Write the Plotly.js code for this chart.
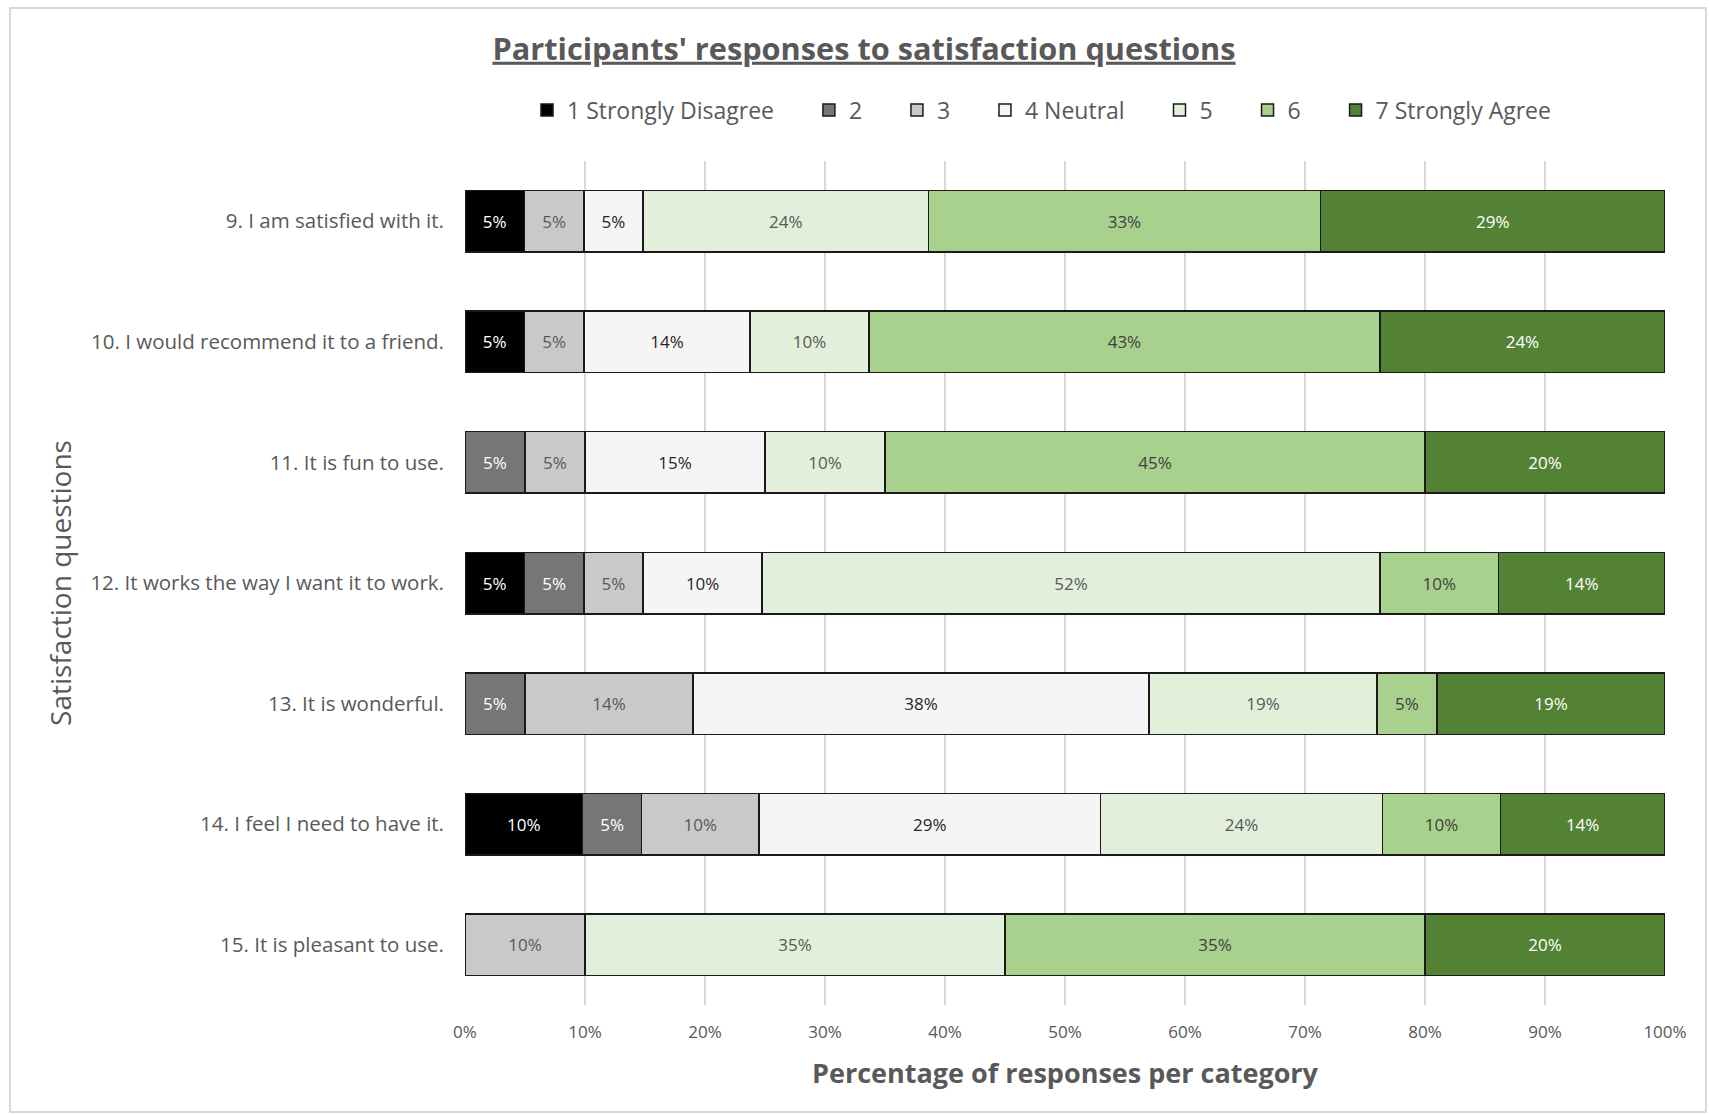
<!DOCTYPE html>
<html>
<head>
<meta charset="utf-8">
<script src="https://cdn.plot.ly/plotly-3.0.1.min.js"></script>
<style>
  html, body { margin: 0; padding: 0; background: #ffffff; }
  #chart { width: 1709px; height: 1115px; }
</style>
</head>
<body>
<div id="chart"></div>
<script>
// Questions, top to bottom
const questions = [
  "9. I am satisfied with it.",
  "10. I would recommend it to a friend.",
  "11. It is fun to use.",
  "12. It works the way I want it to work.",
  "13. It is wonderful.",
  "14. I feel I need to have it.",
  "15. It is pleasant to use."
];

// Likert levels (legend names)
const levels = ["1 Strongly Disagree", "2", "3", "4 Neutral", "5", "6", "7 Strongly Agree"];

// Percentage of responses per level, one value per question (null = no responses)
const level1 = [5, 5, null, 5, null, 10, null];
const level2 = [null, null, 5, 5, 5, 5, null];
const level3 = [5, 5, 5, 5, 14, 10, 10];
const level4 = [5, 14, 15, 10, 38, 29, null];
const level5 = [24, 10, 10, 52, 19, 24, 35];
const level6 = [33, 43, 45, 10, 5, 10, 35];
const level7 = [29, 24, 20, 14, 19, 14, 20];

// x-axis ticks
const tickVals = [0, 10, 20, 30, 40, 50, 60, 70, 80, 90, 100];

const seriesValues = [level1, level2, level3, level4, level5, level6, level7];
const fillColors = ["#000000", "#767676", "#c9c9c9", "#f5f5f5", "#e2efda", "#a9d18e", "#548235"];
const labelColors = ["#ffffff", "#ffffff", "#595959", "#262626", "#595959", "#404040", "#ffffff"];

const FONT = "'Open Sans', Lato, sans-serif";
const GREY = "#595959";
// spacing after each legend entry
const LEGEND_PAD = "\u00a0\u00a0\u00a0\u00a0\u00a0";

const traces = seriesValues.map((vals, i) => ({
  type: "bar",
  orientation: "h",
  name: levels[i] + LEGEND_PAD,
  y: questions,
  x: vals,
  text: vals.map(v => (v == null ? "" : v + "%")),
  texttemplate: "%{text}",
  textposition: "inside",
  insidetextanchor: "middle",
  textangle: 0,
  constraintext: "none",
  textfont: { family: FONT, size: 17, color: labelColors[i] },
  marker: { color: fillColors[i], line: { color: "#1a1a1a", width: 1.5 } },
  hovertemplate: "%{y}<br>" + levels[i] + ": %{text}<extra></extra>"
}));

const plotL = 465, plotR = 1665, plotT = 161, plotB = 1005;
const W = 1709, H = 1115;
const pw = plotR - plotL, ph = plotB - plotT;
const px = v => (v - plotL) / pw;
const py = v => (plotB - v) / ph;

const layout = {
  width: W,
  height: H,
  paper_bgcolor: "#ffffff",
  plot_bgcolor: "#ffffff",
  margin: { l: plotL, r: W - plotR, t: plotT, b: H - plotB, pad: 0 },
  barmode: "stack",
  barnorm: "percent",
  bargap: 0.49,
  font: { family: FONT, color: GREY },
  title: {
    text: "<b>Participants' responses to satisfaction questions</b>",
    xref: "container",
    x: 864 / W,
    xanchor: "center",
    yref: "container",
    y: 1 - 49 / H,
    yanchor: "middle",
    font: { family: FONT, size: 30.7, color: GREY, lineposition: "under" }
  },
  showlegend: true,
  legend: {
    orientation: "h",
    traceorder: "normal",
    x: px(527),
    xanchor: "left",
    y: py(110),
    yanchor: "middle",
    font: { family: FONT, size: 23, color: GREY },
    bgcolor: "rgba(0,0,0,0)"
  },
  xaxis: {
    range: [0, 100],
    tickmode: "array",
    tickvals: tickVals,
    ticktext: tickVals.map(v => v + "%"),
    tickfont: { family: FONT, size: 17, color: GREY },
    ticklabelstandoff: 15,
    showgrid: true,
    gridcolor: "#d9d9d9",
    gridwidth: 1.5,
    zeroline: false,
    showline: false,
    ticks: "",
    fixedrange: true,
    title: {
      text: "<b>Percentage of responses per category</b>",
      font: { family: FONT, size: 27, color: GREY },
      standoff: 22
    }
  },
  yaxis: {
    type: "category",
    categoryorder: "array",
    categoryarray: questions,
    autorange: "reversed",
    tickfont: { family: FONT, size: 20.5, color: GREY },
    ticklabelstandoff: 20,
    showgrid: false,
    zeroline: false,
    showline: false,
    ticks: "",
    fixedrange: true,
    title: {
      text: "Satisfaction questions",
      font: { family: FONT, size: 28, color: GREY },
      standoff: 10
    }
  },
  shapes: [{
    type: "rect",
    xref: "paper", yref: "paper",
    x0: px(10), x1: px(1706), y0: py(1112), y1: py(8),
    line: { color: "#d9d9d9", width: 2 },
    fillcolor: "rgba(0,0,0,0)",
    layer: "below"
  }]
};

Plotly.newPlot("chart", traces, layout, { displayModeBar: false, staticPlot: true });
</script>
</body>
</html>
